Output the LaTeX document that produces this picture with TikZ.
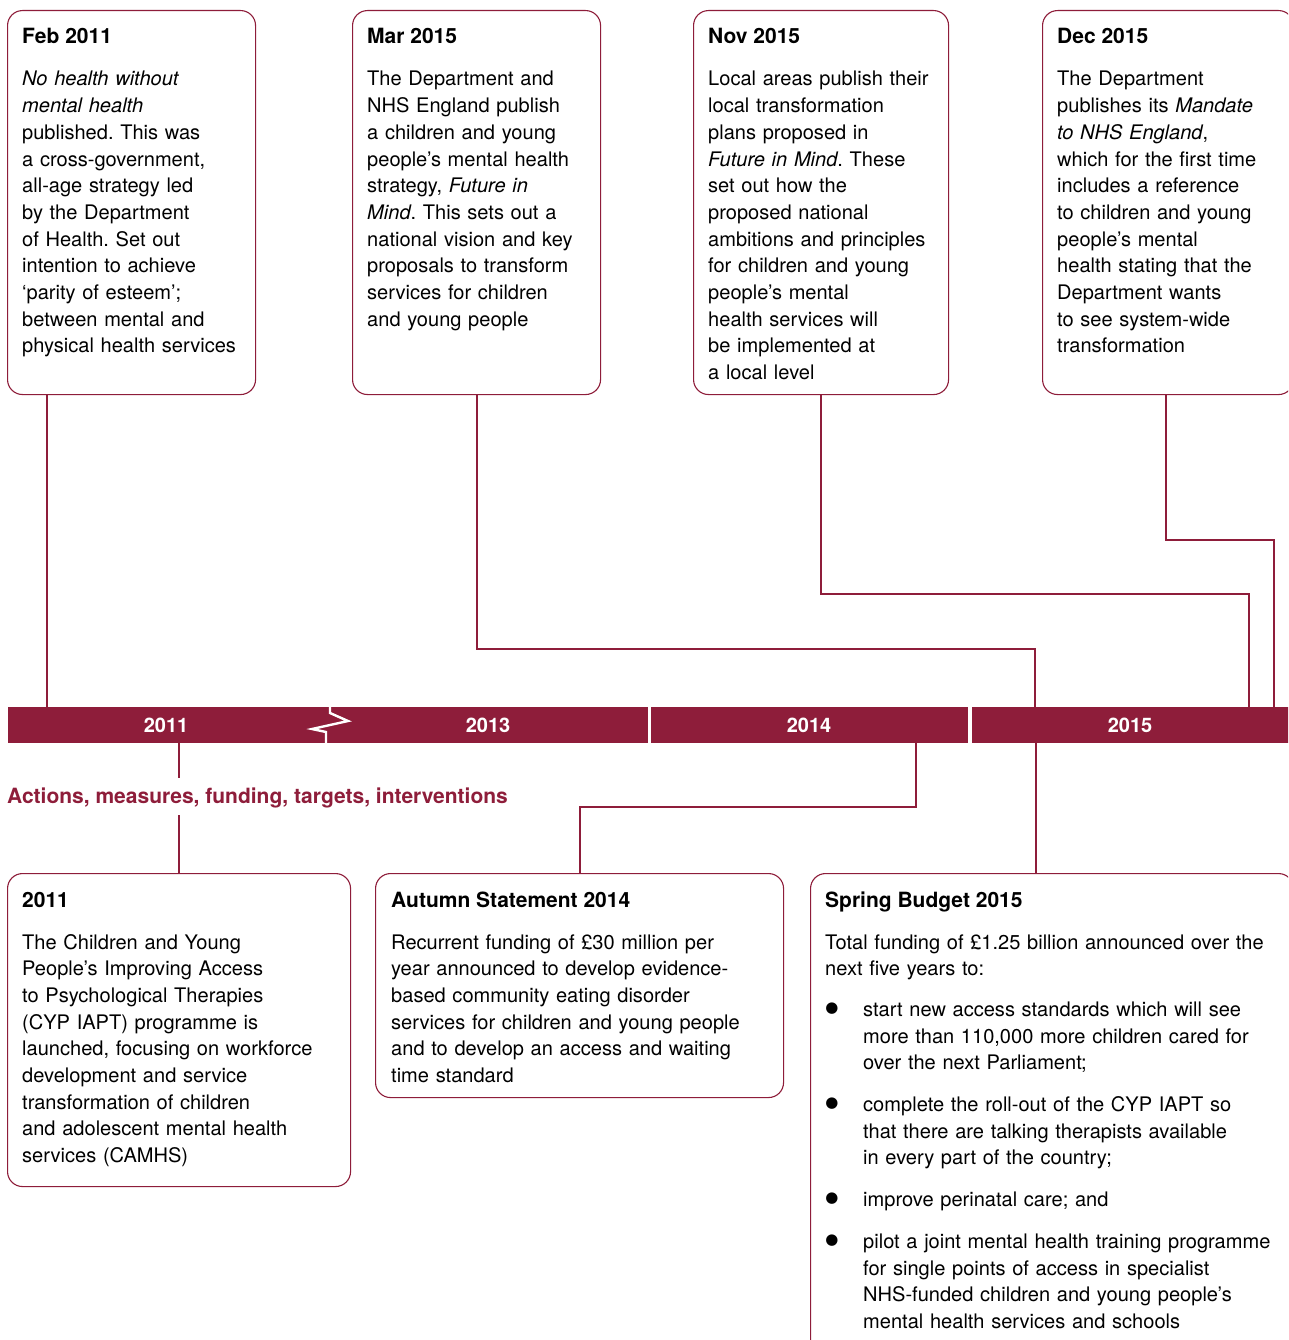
\documentclass[tikz,border=0pt]{standalone}
\usepackage{fontspec}
\setmainfont{TeX Gyre Heros}
\newfontfamily\symfont{DejaVu Sans}
\definecolor{maroon}{RGB}{142,29,58}
\frenchspacing
\begin{document}
\begin{tikzpicture}[x=1pt,y=-1pt,
  box/.style={draw=maroon,line width=1.1pt,rounded corners=15pt,anchor=north west,inner sep=0,fill=none},
  conn/.style={draw=maroon,line width=1.4pt},
  ttl/.style={font=\fontsize{21}{26.7}\selectfont\bfseries,anchor=base west,inner sep=0},
  body/.style={font=\fontsize{20.05}{26.7}\selectfont\frenchspacing,anchor=base west,inner sep=0,align=left,text width=480pt},
  yr/.style={font=\fontsize{20}{24}\selectfont\bfseries,text=white,inner sep=0},
  bul/.style={font=\fontsize{15}{15}\selectfont\symfont,anchor=center,inner sep=0}]
\useasboundingbox (0,0) rectangle (1288,1340);
\clip (0,0) rectangle (1288,1340);
\fill[white] (0,0) rectangle (1288,1340);

% timeline bar
\fill[maroon] (8,707) rectangle (648,743);
\fill[maroon] (651,707) rectangle (968,743);
\fill[maroon] (972,707) rectangle (1300,743);
\draw[white,line width=2.4pt,line join=miter] (330,705) -- (330,713) -- (348,721) -- (312,729) -- (326,732) -- (326,745);
\node[yr] (y11) at (166,725) {2011};
\node[yr] (y13) at (488,725) {2013};
\node[yr] (y14) at (809,725) {2014};
\node[yr] (y15) at (1130,725) {2015};

% top boxes
\node[box,minimum width=248pt,minimum height=384pt] (b1) at (7,10) {};
\node[box,minimum width=248pt,minimum height=384pt] (b2) at (352,10) {};
\node[box,minimum width=255pt,minimum height=384pt] (b3) at (693,10) {};
\node[box,minimum width=251pt,minimum height=384pt] (b4) at (1042,10) {};

\node[ttl] (t1) at (22,44) {Feb 2011};
\node[body] (x1) at (22,86) {\textit{No health without}\\ \textit{mental health}\\ published. This was\\ a cross-government,\\ all-age strategy led\\ by the Department\\ of Health. Set out\\ intention to achieve\\ ‘parity of esteem’;\\ between mental and\\ physical health services};

\node[ttl] (t2) at (367,44) {Mar 2015};
\node[body] (x2) at (367,86) {The Department and\\ NHS England publish\\ a children and young\\ people’s mental health\\ strategy, \textit{Future in}\\ \textit{Mind}. This sets out a\\ national vision and key\\ proposals to transform\\ services for children\\ and young people};

\node[ttl] (t3) at (708,44) {Nov 2015};
\node[body] (x3) at (708,86) {Local areas publish their\\ local transformation\\ plans proposed in\\ \textit{Future in Mind}. These\\ set out how the\\ proposed national\\ ambitions and principles\\ for children and young\\ people’s mental\\ health services will\\ be implemented at\\ a local level};

\node[ttl] (t4) at (1057,44) {Dec 2015};
\node[body] (x4) at (1057,86) {The Department\\ publishes its \textit{Mandate}\\ \textit{to NHS England},\\ which for the first time\\ includes a reference\\ to children and young\\ people’s mental\\ health stating that the\\ Department wants\\ to see system-wide\\ transformation};

% top connectors
\coordinate (p1) at (47,707);
\coordinate (p2) at (1035,707);
\coordinate (p3) at (1249,707);
\coordinate (p4) at (1274,707);
\coordinate (k2) at (477,649);
\coordinate (k3) at (821,594);
\coordinate (k4) at (1166,540);
\draw[conn] (b1.south -| p1) -- (p1);
\draw[conn] (b2.south -| k2) -- (k2) -| (p2);
\draw[conn] (b3.south -| k3) -- (k3) -| (p3);
\draw[conn] (b4.south -| k4) -- (k4) -| (p4);

% label
\node[font=\fontsize{21}{24}\selectfont\bfseries,text=maroon,anchor=base west,inner sep=0] (lab) at (7,803) {Actions, measures, funding, targets, interventions};

% bottom boxes
\node[box,minimum width=343pt,minimum height=313pt] (bA) at (7,873) {};
\node[box,minimum width=408pt,minimum height=224pt] (bB) at (375,873) {};
\node[box,minimum width=483pt,minimum height=500pt] (bC) at (810,873) {};

\node[ttl] (tA) at (22,907) {2011};
\node[body] (xA) at (22,949) {The Children and Young\\ People’s Improving Access\\ to Psychological Therapies\\ (CYP IAPT) programme is\\ launched, focusing on workforce\\ development and service\\ transformation of children\\ and adolescent mental health\\ services (CAMHS)};

\node[ttl] (tB) at (391,907) {Autumn Statement 2014};
\node[body] (xB) at (391,949) {Recurrent funding of £30 million per\\ year announced to develop evidence-\\ based community eating disorder\\ services for children and young people\\ and to develop an access and waiting\\ time standard};

\node[ttl] (tC) at (825,907) {Spring Budget 2015};
\node[body] (xC) at (825,949) {Total funding of £1.25 billion announced over the\\ next five years to:};
\node[bul] (d1) at (832,1009) {●};
\node[body] (e1) at (863,1016.5) {start new access standards which will see\\ more than 110,000 more children cared for\\ over the next Parliament;};
\node[bul] (d2) at (832,1104) {●};
\node[body] (e2) at (863,1111.5) {complete the roll-out of the CYP IAPT so\\ that there are talking therapists available\\ in every part of the country;};
\node[bul] (d3) at (832,1199) {●};
\node[body] (e3) at (863,1206.5) {improve perinatal care; and};
\node[bul] (d4) at (832,1241) {●};
\node[body] (e4) at (863,1248.5) {pilot a joint mental health training programme\\ for single points of access in specialist\\ NHS-funded children and young people’s\\ mental health services and schools};

% bottom connectors
\coordinate (q1) at (179,743);
\coordinate (q2) at (916,743);
\coordinate (q3) at (1036,743);
\coordinate (m2) at (580,807);
\draw[conn] (q1) -- (179,778);
\draw[conn] (179,815) -- (bA.north -| q1);
\draw[conn] (q2) |- (m2) -- (bB.north -| m2);
\draw[conn] (q3) -- (bC.north -| q3);
\end{tikzpicture}
\end{document}
